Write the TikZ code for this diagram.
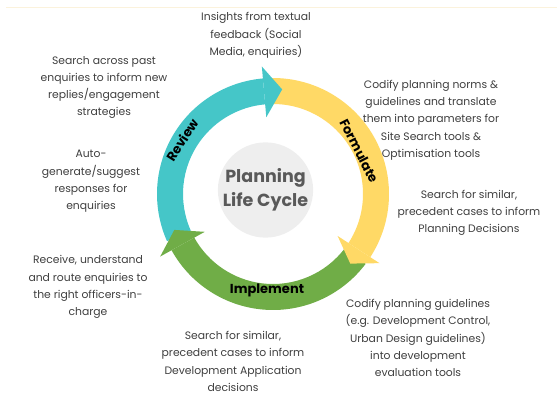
\documentclass[tikz,border=0pt]{standalone}
\usepackage{fontspec}
\setmainfont{Poppins}
\definecolor{cteal}{HTML}{45C6C8}
\definecolor{cyellow}{HTML}{FFD966}
\definecolor{cgreen}{HTML}{70AD47}
\definecolor{cgray}{HTML}{EEEEEE}
\definecolor{ctext}{HTML}{3F3F3F}
\definecolor{ctitle}{HTML}{595959}
\definecolor{cline}{HTML}{FBF2DC}
\begin{document}
\begin{tikzpicture}[x=1pt,y=1pt,
  desc/.style={align=center, text=ctext, font=\fontsize{10.8}{17.3}\selectfont, inner sep=0pt},
  ringlabel/.style={font=\fontsize{13}{15}\selectfont\bfseries, text=black, inner sep=0pt},
  hubstyle/.style={circle, fill=cgray, minimum size=89pt, inner sep=0pt, align=center,
    text=ctitle, font=\fontsize{17.5}{24}\selectfont\bfseries}]
\useasboundingbox (0,0) rectangle (557,408);
\draw[cline, line width=0.8] (6,401) -- (557,401);
\node[hubstyle] (hub) at (265.5,218) {Planning\\Life Cycle};
\begin{scope}[shift={(273,214)}]
  % bodies
  \fill[cteal] (204:90) arc[start angle=204, end angle=95, radius=90] -- (95:116) arc[start angle=95, end angle=204, radius=116] -- cycle;
  \fill[cyellow] (91:90) arc[start angle=91, end angle=-33, radius=90] -- (-33:116) arc[start angle=-33, end angle=91, radius=116] -- cycle;
  \fill[cgreen] (-37:90) arc[start angle=-37, end angle=-151, radius=90] -- (-151:116) arc[start angle=-151, end angle=-37, radius=116] -- cycle;
  % heads
  \fill[cteal] (95:77) -- (85:105) -- (95:128) -- cycle;
  \fill[cyellow] (-33:77) -- (-42:104) -- (-33:127) -- cycle;
  \fill[cgreen] (-151:78) -- (-160:105) -- (-151:129) -- cycle;
  % ring labels
  \node[ringlabel, rotate=58] (review) at (-91,54) {Review};
  \node[ringlabel, rotate=-63] (formulate) at (86,43) {Formulate};
  \node[ringlabel] (implement) at (-6,-96) {Implement};
\end{scope}
\node[desc] (d1) at (256,372.5) {Insights from textual\\feedback (Social\\Media, enquiries)};
\node[desc] (d2) at (104,320.5) {Search across past\\enquiries to inform new\\replies/engagement\\strategies};
\node[desc] (d3) at (431,288) {Codify planning norms \&\\guidelines and translate\\them into parameters for\\Site Search tools \&\\Optimisation tools};
\node[desc] (d4) at (91,226.5) {Auto-\\generate/suggest\\responses for\\enquiries};
\node[desc] (d5) at (469,195) {Search for similar,\\precedent cases to inform\\Planning Decisions};
\node[desc] (d6) at (88,121) {Receive, understand\\and route enquiries to\\the right officers-in-\\charge};
\node[desc] (d7) at (233,46.5) {Search for similar,\\precedent cases to inform\\Development Application\\decisions};
\node[desc] (d8) at (418,70) {Codify planning guidelines\\(e.g. Development Control,\\Urban Design guidelines)\\into development\\evaluation tools};
\end{tikzpicture}
\end{document}
